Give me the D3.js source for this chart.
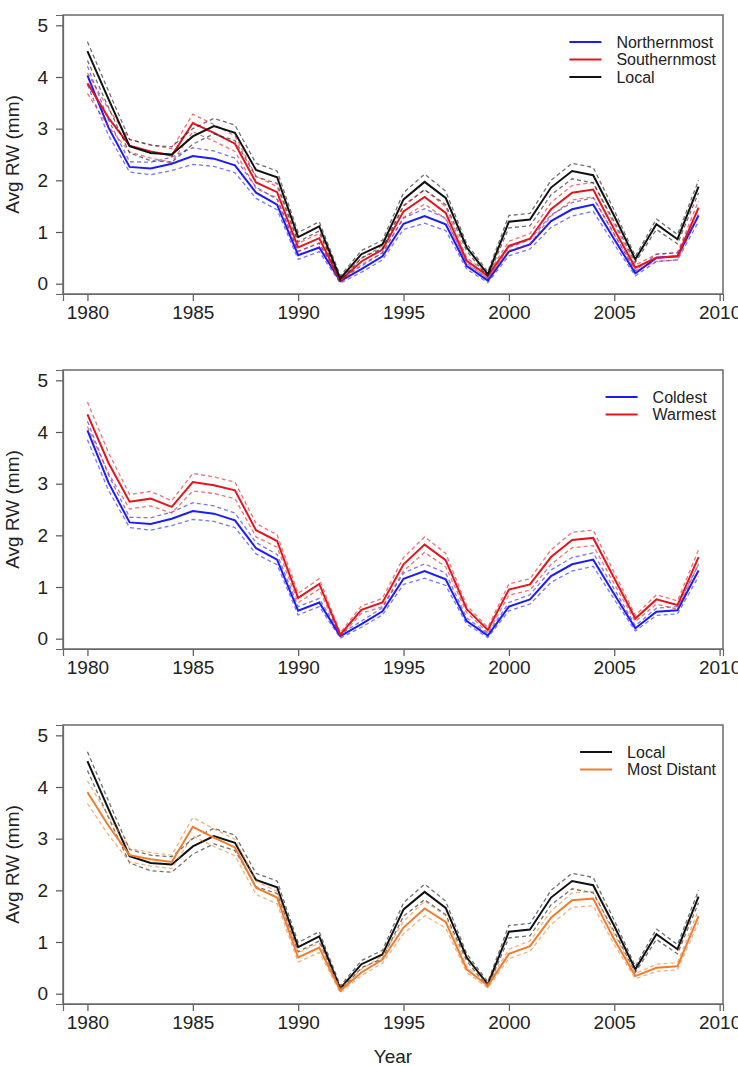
<!DOCTYPE html>
<html>
<head>
<meta charset="utf-8">
<script src="https://cdn.jsdelivr.net/npm/d3@7"></script>
<style>
body { margin: 0; background: #fff; }
svg text { font-family: "Liberation Sans", Arial, sans-serif; fill: #222; }
</style>
</head>
<body>
<svg id="chart" width="738" height="1066"></svg>
<script>
// Years on the x axis
const years = [1980, 1981, 1982, 1983, 1984, 1985, 1986, 1987, 1988, 1989,
               1990, 1991, 1992, 1993, 1994, 1995, 1996, 1997, 1998, 1999,
               2000, 2001, 2002, 2003, 2004, 2005, 2006, 2007, 2008, 2009];
const xTicks = [1980, 1985, 1990, 1995, 2000, 2005, 2010];
const yTicks = [0, 1, 2, 3, 4, 5];

// Mean ring width (mm) per source
const northernmost = [4.03, 3.02, 2.26, 2.23, 2.32, 2.47, 2.42, 2.29, 1.76, 1.53,
                      0.55, 0.70, 0.05, 0.28, 0.53, 1.16, 1.31, 1.15, 0.34, 0.06,
                      0.62, 0.76, 1.21, 1.44, 1.53, 0.86, 0.20, 0.50, 0.53, 1.32];
const southernmost = [3.88, 3.21, 2.67, 2.56, 2.48, 3.11, 2.92, 2.71, 1.96, 1.77,
                      0.70, 0.88, 0.06, 0.43, 0.66, 1.40, 1.68, 1.37, 0.44, 0.15,
                      0.73, 0.87, 1.44, 1.76, 1.82, 1.05, 0.31, 0.50, 0.53, 1.47];
const local =        [4.50, 3.57, 2.66, 2.53, 2.50, 2.85, 3.05, 2.92, 2.20, 2.06,
                      0.90, 1.11, 0.10, 0.57, 0.76, 1.63, 1.97, 1.66, 0.70, 0.18,
                      1.20, 1.24, 1.86, 2.18, 2.10, 1.31, 0.47, 1.15, 0.86, 1.88];
const coldest =      [4.03, 3.02, 2.25, 2.22, 2.32, 2.47, 2.42, 2.29, 1.75, 1.53,
                      0.54, 0.70, 0.05, 0.28, 0.53, 1.16, 1.31, 1.15, 0.34, 0.06,
                      0.62, 0.76, 1.21, 1.44, 1.53, 0.86, 0.20, 0.52, 0.55, 1.32];
const warmest =      [4.34, 3.40, 2.65, 2.71, 2.55, 3.03, 2.97, 2.87, 2.10, 1.89,
                      0.79, 1.06, 0.08, 0.56, 0.70, 1.44, 1.82, 1.52, 0.57, 0.17,
                      0.95, 1.05, 1.58, 1.91, 1.95, 1.17, 0.39, 0.76, 0.65, 1.58];
const mostDistant =  [3.90, 3.25, 2.68, 2.60, 2.55, 3.23, 3.02, 2.83, 2.05, 1.86,
                      0.70, 0.89, 0.06, 0.41, 0.66, 1.28, 1.65, 1.39, 0.47, 0.15,
                      0.77, 0.92, 1.47, 1.81, 1.84, 1.05, 0.34, 0.50, 0.53, 1.50];

// Half-width of the dashed confidence bands
const northernmostCI = [0.18, 0.15, 0.10, 0.12, 0.13, 0.16, 0.15, 0.14, 0.11, 0.10,
                        0.08, 0.08, 0.04, 0.06, 0.07, 0.11, 0.14, 0.12, 0.06, 0.04,
                        0.08, 0.09, 0.12, 0.13, 0.13, 0.10, 0.05, 0.07, 0.07, 0.12];
const southernmostCI = [0.20, 0.17, 0.12, 0.13, 0.13, 0.17, 0.16, 0.15, 0.12, 0.11,
                        0.08, 0.09, 0.04, 0.06, 0.07, 0.12, 0.14, 0.12, 0.06, 0.04,
                        0.09, 0.10, 0.13, 0.14, 0.14, 0.10, 0.05, 0.07, 0.07, 0.13];
const localCI =        [0.18, 0.16, 0.13, 0.15, 0.15, 0.15, 0.15, 0.15, 0.13, 0.12,
                        0.09, 0.09, 0.05, 0.07, 0.08, 0.13, 0.15, 0.13, 0.07, 0.05,
                        0.12, 0.12, 0.14, 0.15, 0.15, 0.11, 0.06, 0.10, 0.09, 0.12];
const coldestCI =      [0.18, 0.15, 0.10, 0.12, 0.13, 0.16, 0.15, 0.14, 0.11, 0.10,
                        0.08, 0.08, 0.04, 0.06, 0.07, 0.11, 0.14, 0.12, 0.06, 0.04,
                        0.08, 0.09, 0.12, 0.13, 0.13, 0.10, 0.05, 0.07, 0.07, 0.12];
const warmestCI =      [0.24, 0.20, 0.14, 0.14, 0.12, 0.17, 0.16, 0.16, 0.13, 0.12,
                        0.09, 0.10, 0.04, 0.07, 0.08, 0.13, 0.15, 0.13, 0.07, 0.05,
                        0.11, 0.11, 0.14, 0.15, 0.15, 0.11, 0.06, 0.09, 0.08, 0.14];
const mostDistantCI =  [0.22, 0.18, 0.13, 0.13, 0.13, 0.18, 0.17, 0.16, 0.13, 0.12,
                        0.09, 0.09, 0.04, 0.06, 0.07, 0.12, 0.14, 0.12, 0.06, 0.04,
                        0.09, 0.10, 0.13, 0.14, 0.14, 0.10, 0.05, 0.07, 0.07, 0.12];

const BLUE = '#1c1cf5', RED = '#e2161c', BLACK = '#111', ORANGE = '#f07c2c';

const panels = [
    { top: 15, series: [
        { name: 'Northernmost', values: northernmost, ci: northernmostCI, color: BLUE },
        { name: 'Southernmost', values: southernmost, ci: southernmostCI, color: RED },
        { name: 'Local', values: local, ci: localCI, color: BLACK }
    ]},
    { top: 370, series: [
        { name: 'Coldest', values: coldest, ci: coldestCI, color: BLUE },
        { name: 'Warmest', values: warmest, ci: warmestCI, color: RED }
    ]},
    { top: 725, series: [
        { name: 'Local', values: local, ci: localCI, color: BLACK },
        { name: 'Most Distant', values: mostDistant, ci: mostDistantCI, color: ORANGE }
    ], xlabel: 'Year' }
];

// Plot region (R style: 4% padding around data range)
const left = 63, right = 723, panelHeight = 279;
const svg = d3.select('#chart');

const x = d3.scaleLinear()
    .domain([1980 - 29 * 0.04, 2009 + 29 * 0.04])
    .range([left, right]);

panels.forEach(p => {
    const g = svg.append('g').attr('transform', `translate(0,${p.top})`);

    const y = d3.scaleLinear()
        .domain([-0.2, 5.2])
        .range([panelHeight, 0]);

    // bottom axis
    const xAxis = g.append('g')
        .attr('transform', `translate(0,${panelHeight})`)
        .call(d3.axisBottom(x).tickValues(xTicks).tickFormat(d3.format('d')).tickSize(7).tickPadding(5));
    xAxis.select('.domain').attr('stroke', '#666').attr('stroke-width', 1.2);
    xAxis.selectAll('.tick line').attr('stroke', '#555').attr('stroke-width', 1.2);
    xAxis.selectAll('.tick text').attr('font-size', 19).attr('fill', '#222')
        .attr('font-family', '"Liberation Sans", Arial, sans-serif');

    // left axis
    const yAxis = g.append('g')
        .attr('transform', `translate(${left},0)`)
        .call(d3.axisLeft(y).tickValues(yTicks).tickFormat(d3.format('d')).tickSize(7).tickPadding(8));
    yAxis.select('.domain').attr('stroke', '#666').attr('stroke-width', 1.2);
    yAxis.selectAll('.tick line').attr('stroke', '#555').attr('stroke-width', 1.2);
    yAxis.selectAll('.tick text').attr('font-size', 19).attr('fill', '#222')
        .attr('font-family', '"Liberation Sans", Arial, sans-serif');

    // box
    g.append('rect')
        .attr('x', left).attr('y', 0)
        .attr('width', right - left).attr('height', panelHeight)
        .attr('fill', 'none').attr('stroke', '#6a6a6a').attr('stroke-width', 1.5);

    // y label
    g.append('text')
        .attr('transform', `translate(19,${panelHeight / 2}) rotate(-90)`)
        .attr('text-anchor', 'middle')
        .attr('font-size', 19)
        .text('Avg RW (mm)');

    const line = d3.line().x((d, i) => x(years[i])).y(d => y(d));

    p.series.forEach(s => {
        const upper = s.values.map((v, i) => v + s.ci[i]);
        const lower = s.values.map((v, i) => v - s.ci[i]);
        [upper, lower].forEach(b => {
            g.append('path')
                .datum(b)
                .attr('fill', 'none')
                .attr('stroke', s.color)
                .attr('stroke-opacity', 0.6)
                .attr('stroke-width', 1.3)
                .attr('stroke-dasharray', '4,3')
                .attr('d', line);
        });
        g.append('path')
            .datum(s.values)
            .attr('fill', 'none')
            .attr('stroke', s.color)
            .attr('stroke-width', 2)
            .attr('d', line);
    });

    // legend, right-aligned inside the box
    const leg = g.append('g');
    const labels = leg.selectAll('text')
        .data(p.series)
        .enter()
        .append('text')
        .attr('font-size', 16)
        .attr('dy', '0.35em')
        .attr('y', (d, i) => 27 + i * 17.5)
        .text(d => d.name);
    const maxW = d3.max(labels.nodes(), n => n.getComputedTextLength());
    const textX = 716 - maxW;
    labels.attr('x', textX);
    leg.selectAll('line')
        .data(p.series)
        .enter()
        .append('line')
        .attr('x1', textX - 47).attr('x2', textX - 15)
        .attr('y1', (d, i) => 27 + i * 17.5)
        .attr('y2', (d, i) => 27 + i * 17.5)
        .attr('stroke', d => d.color)
        .attr('stroke-width', 2);

    if (p.xlabel) {
        g.append('text')
            .attr('x', (left + right) / 2)
            .attr('y', panelHeight + 52)
            .attr('dy', '0.35em')
            .attr('text-anchor', 'middle')
            .attr('font-size', 19)
            .text(p.xlabel);
    }
});
</script>
</body>
</html>
